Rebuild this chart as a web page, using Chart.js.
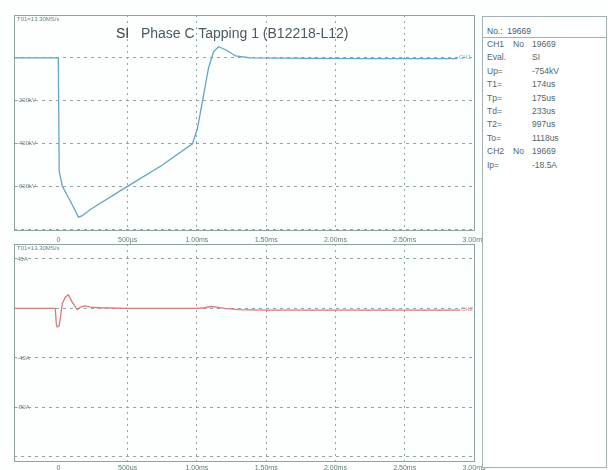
<!DOCTYPE html>
<html>
<head>
<meta charset="utf-8">
<script src="https://cdn.jsdelivr.net/npm/chart.js@4.4.1/dist/chart.umd.min.js"></script>
<style>
  body{margin:0;width:608px;height:470px;overflow:hidden;position:relative;background:#fdfefe;font-family:"Liberation Sans",Arial,sans-serif;}
  canvas{position:absolute;left:0;}
  #topChart{top:0;}
  #bottomChart{top:230px;}
  .title{position:absolute;left:116px;top:25px;font-size:14px;color:#4a5a62;white-space:pre;}
  .title b{font-weight:normal;color:#333d44;}
  .rate{position:absolute;left:17px;font-size:6px;color:#6d8188;}
  .mark{position:absolute;font-size:6px;}
  #info{position:absolute;left:482px;top:16px;width:123px;height:450px;border:1px solid #a4b0b3;background:#fff;font-size:8.5px;color:#4e656b;z-index:5;}
  #info .head{height:20px;line-height:28px;border-bottom:1px solid #a4b0b3;padding-left:4px;color:#3f5a66;}
  #info .row{position:relative;height:13.4px;line-height:13.4px;}
  #info .k{position:absolute;left:4px;}
  #info .n{position:absolute;left:30px;}
  #info .v{position:absolute;left:49px;}
</style>
</head>
<body>
<canvas id="topChart" width="500" height="259"></canvas>
<canvas id="bottomChart" width="500" height="254"></canvas>

<div class="title"><b>SI</b>   Phase C Tapping 1 (B12218-L12)</div>
<div class="rate" style="top:16px">T01=13.30MS/s</div>
<div class="rate" style="top:245px">T01=13.30MS/s</div>
<div class="mark" style="left:459px;top:54px;color:#6fb0cc">CH1</div>
<div class="mark" style="left:461px;top:306px;color:#d98585">CH2</div>

<div id="info">
  <div class="head">No.:&nbsp;&nbsp;19669</div>
  <div id="infoRows"></div>
</div>

<script>
// Time axis (ms)
const xTickVals = [0, 0.5, 1, 1.5, 2, 2.5, 3];
const xTickLabels = ['0', '500\u00b5s', '1.00ms', '1.50ms', '2.00ms', '2.50ms', '3.00ms'];

// CH1 voltage (kV)
const ch1Time = [-0.32, 0, 0.006, 0.029, 0.087, 0.145, 0.173, 0.231, 0.49, 0.74, 0.968, 1.004, 1.048, 1.084, 1.12, 1.156, 1.207, 1.279, 1.387, 1.8, 2.3, 2.88];
const ch1Volt = [0, 0, -527, -598, -668, -742, -735, -706, -602, -504, -400, -329, -174, -47, 28, 52, 38, 9, 0, -2, -3, -3];
const ch1Ticks = [200, 0, -200, -400, -600, -800];
const ch1Labelled = [-200, -400, -600];

// CH2 current (A)
const ch2Time = [-0.32, -0.022, -0.015, -0.008, 0.006, 0.014, 0.029, 0.05, 0.072, 0.1, 0.137, 0.16, 0.19, 0.23, 0.3, 0.5, 1.0, 1.06, 1.1, 1.14, 1.2, 1.3, 1.5, 2.0, 2.9];
const ch2Curr = [0, 0, -12, -15, -14, -8, 4, 9, 11, 5, -1, 1, 2, 1, 0.5, 0, 0, 0.5, 1.5, 1, 0, -1, -1.5, -1.5, -1.5];
const ch2Ticks = [40, 0, -40, -80, -120];
const ch2Labelled = [40, -40, -80];

// Evaluation panel
const infoKeys = ['CH1', 'Eval.', 'Up=', 'T1=', 'Tp=', 'Td=', 'T2=', 'To=', 'CH2', 'Ip='];
const infoVals = ['19669', 'SI', '-754kV', '174us', '175us', '233us', '997us', '1118us', '19669', '-18.5A'];

const rows = document.getElementById('infoRows');
infoKeys.forEach((k, i) => {
  const row = document.createElement('div');
  row.className = 'row';
  const isCh = k.startsWith('CH');
  row.innerHTML = `<span class="k">${k}</span>` + (isCh ? '<span class="n">No</span>' : '') + `<span class="v">${infoVals[i]}</span>`;
  rows.appendChild(row);
});

const gridColor = '#8fa6a5';

const framePlugin = {
  id: 'frame',
  afterDraw(chart){
    const a = chart.chartArea, c = chart.ctx;
    c.save();
    c.strokeStyle = '#8ea2a4';
    c.lineWidth = 1;
    c.strokeRect(Math.round(a.left) + 0.5, Math.round(a.top) + 0.5, Math.round(a.right - a.left), Math.round(a.bottom - a.top));
    c.restore();
  }
};

function makeChart(id, xs, ys, color, yMin, yMax, yTicks, labelled, unit, pad, tickPad){
  return new Chart(document.getElementById(id), {
    type: 'line',
    data: {
      datasets: [{
        data: xs.map((x, i) => ({x: x, y: ys[i]})),
        borderColor: color,
        borderWidth: 1.3,
        pointRadius: 0,
        tension: 0,
        fill: false
      }]
    },
    options: {
      responsive: false,
      animation: false,
      layout: { padding: pad },
      plugins: { legend: {display: false}, tooltip: {enabled: false} },
      scales: {
        x: {
          type: 'linear', min: -0.32, max: 3,
          afterBuildTicks: s => { s.ticks = xTickVals.map(v => ({value: v})); },
          ticks: {
            autoSkip: false, maxRotation: 0, padding: tickPad,
            color: '#5f7f74', font: {size: 7, family: 'Liberation Sans'},
            callback: v => xTickLabels[xTickVals.indexOf(v)]
          },
          grid: {
            drawTicks: false,
            color: ctx => ctx.tick && ctx.tick.value === 0 ? 'rgba(0,0,0,0)' : gridColor
          },
          border: { display: false, dash: [2, 4] }
        },
        y: {
          min: yMin, max: yMax,
          afterBuildTicks: s => { s.ticks = yTicks.map(v => ({value: v})); },
          ticks: {
            mirror: true, padding: 3, autoSkip: false,
            color: '#6d8188', font: {size: 6, family: 'Liberation Sans'},
            callback: v => labelled.includes(v) ? v + unit : ''
          },
          grid: { drawTicks: false, color: gridColor },
          border: { display: false, dash: [3, 4] }
        }
      }
    },
    plugins: [framePlugin]
  });
}

makeChart('topChart', ch1Time, ch1Volt, '#62a6c2', -800, 200, ch1Ticks, ch1Labelled, 'kV',
  {left: 8, right: 26, top: 15, bottom: 9}, 6);
makeChart('bottomChart', ch2Time, ch2Curr, '#d77a7a', -123, 52, ch2Ticks, ch2Labelled, 'A',
  {left: 8, right: 26, top: 14, bottom: 9}, 3);
</script>
</body>
</html>
